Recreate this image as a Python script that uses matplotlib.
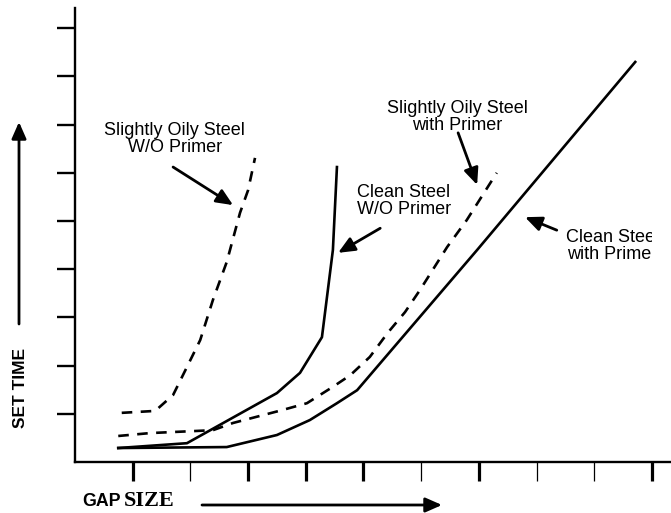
import numpy as np
import matplotlib
matplotlib.use("Agg")
import matplotlib.pyplot as plt
from matplotlib.patches import FancyArrowPatch, Rectangle

# curve data (gap size in tick units, set time in tick units)
oily_no_primer_x = [0.81, 1.39, 1.70, 1.94, 2.17, 2.39, 2.63, 2.86, 3.00, 3.12]
oily_no_primer_y = [1.02, 1.06, 1.39, 1.97, 2.53, 3.36, 4.15, 5.17, 5.64, 6.31]

clean_no_primer_x = [0.75, 1.94, 3.50, 3.90, 4.28, 4.47, 4.54]
clean_no_primer_y = [0.29, 0.39, 1.43, 1.85, 2.59, 4.40, 6.12]

oily_primer_x = [0.75, 1.30, 2.39, 2.74, 3.60, 4.02, 4.47, 4.77, 5.11, 5.42, 5.72, 5.98, 6.45, 6.79, 7.31]
oily_primer_y = [0.54, 0.60, 0.66, 0.81, 1.08, 1.22, 1.56, 1.80, 2.18, 2.68, 3.11, 3.57, 4.46, 5.02, 6.00]

clean_primer_x = [0.75, 2.63, 3.50, 4.07, 4.54, 4.89, 6.97, 9.71]
clean_primer_y = [0.29, 0.31, 0.56, 0.87, 1.22, 1.49, 4.40, 8.30]

x_major = [1, 3, 4, 5, 7, 10]
x_minor = [2, 6, 8, 9]
y_ticks = [1, 2, 3, 4, 5, 6, 7, 8, 9]

labels = ["Slightly Oily Steel\nW/O Primer", "Clean Steel\nW/O Primer",
          "Slightly Oily Steel\nwith Primer", "Clean Steel\nwith Primer"]

sans = "Liberation Sans"

fig = plt.figure(figsize=(6.71, 5.13), dpi=100)
ax = fig.add_axes([75 / 671, 51 / 513, 596 / 671, 454 / 513])

dash = (0, (4, 3.2))
lw = 1.9
ax.plot(oily_no_primer_x, oily_no_primer_y, color="black", lw=lw, linestyle=dash)
ax.plot(clean_no_primer_x, clean_no_primer_y, color="black", lw=lw)
ax.plot(oily_primer_x, oily_primer_y, color="black", lw=lw, linestyle=dash)
ax.plot(clean_primer_x, clean_primer_y, color="black", lw=lw)

ax.set_xlim(0, 10.33)
ax.set_ylim(0, 9.42)
for s in ["top", "right"]:
    ax.spines[s].set_visible(False)
for s in ["left", "bottom"]:
    ax.spines[s].set_linewidth(1.7)

ax.set_xticks(x_major)
ax.set_xticks(x_minor, minor=True)
ax.set_yticks(y_ticks)
ax.set_xticklabels([])
ax.set_yticklabels([])
ax.tick_params(axis="x", which="major", direction="out", length=14, width=2.3)
ax.tick_params(axis="x", which="minor", direction="out", length=14, width=0.9)
ax.tick_params(axis="y", which="major", direction="out", length=13, width=1.7)

# annotations: (text position, arrow start, arrow end)
notes = [((1.73, 6.70), (1.70, 6.12), (2.74, 5.33)),
         ((5.70, 5.41), (5.29, 4.85), (4.56, 4.34)),
         ((6.62, 7.16), (6.64, 6.83), (6.97, 5.75)),
         ((9.31, 4.48), (8.35, 4.81), (7.80, 5.08))]
ap = dict(arrowstyle="-|>,head_length=0.5,head_width=0.22", color="black",
          lw=2.0, mutation_scale=20, shrinkA=0, shrinkB=0)
for lab, (tpos, a0, a1) in zip(labels, notes):
    ax.text(tpos[0], tpos[1], lab, ha="center", va="center", fontsize=13,
            family=sans, linespacing=1.0, clip_on=False)
    ax.annotate("", xy=a1, xytext=a0, arrowprops=ap, annotation_clip=False)

# the scanned page is cut just before the right edge, over the last label
fig.add_artist(Rectangle((652 / 671, (513 - 270) / 513), 19 / 671, 50 / 513,
                         transform=fig.transFigure, facecolor="white",
                         edgecolor="none", zorder=10))

# axis labels with arrows
fig.text(21 / 671, (513 - 388) / 513, "SET TIME", rotation=90, ha="center",
         va="center", fontsize=12.5, fontweight="bold", family=sans)
fig.add_artist(FancyArrowPatch(
    (19 / 671, (513 - 324) / 513), (19 / 671, (513 - 122) / 513),
    transform=fig.transFigure, arrowstyle="-|>,head_length=0.5,head_width=0.22",
    mutation_scale=20, lw=2.0, color="black", shrinkA=0, shrinkB=0))

fig.text(82 / 671, (513 - 501) / 513, "GAP", ha="left", va="center",
         fontsize=12.8, fontweight="bold", family=sans)
fig.text(124 / 671, (513 - 501) / 513, "SIZE", ha="left", va="center",
         fontsize=16, fontweight="bold", family="Liberation Serif")
fig.add_artist(FancyArrowPatch(
    (202 / 671, (513 - 505) / 513), (442 / 671, (513 - 505) / 513),
    transform=fig.transFigure, arrowstyle="-|>,head_length=0.5,head_width=0.22",
    mutation_scale=20, lw=2.0, color="black", shrinkA=0, shrinkB=0))

fig.savefig("out.png", dpi=100)
